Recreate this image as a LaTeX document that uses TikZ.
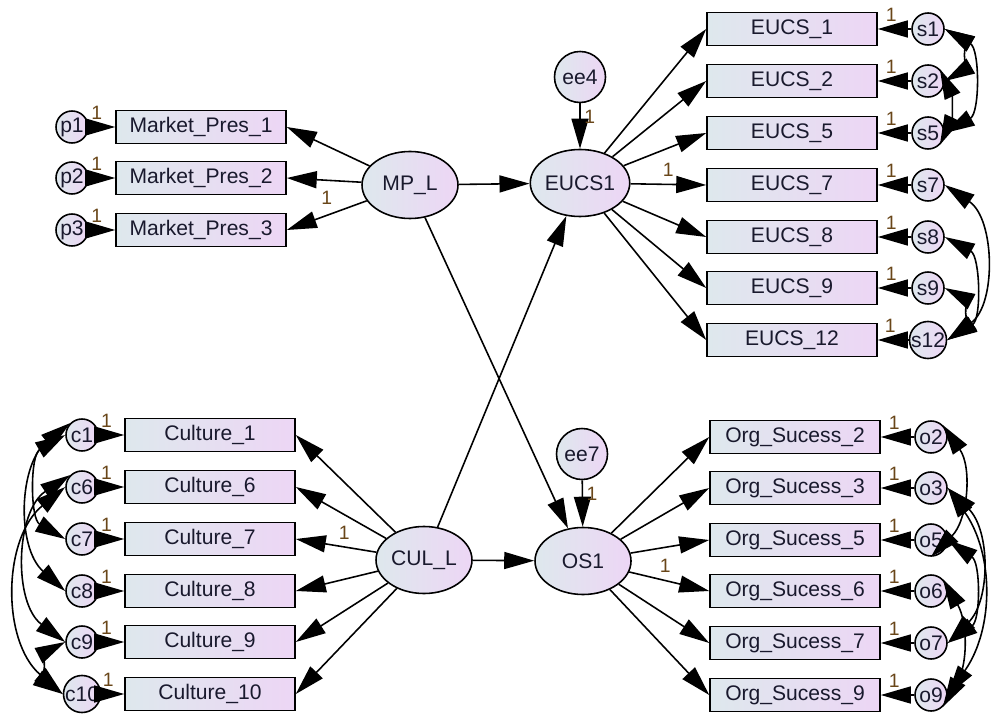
\documentclass[tikz,border=0pt]{standalone}
\usepackage{fontspec}
\setmainfont{Liberation Sans}
\usepackage{tikz}
\usetikzlibrary{arrows.meta, shapes.geometric}
\definecolor{fillleft}{RGB}{222,232,237}
\definecolor{fillright}{RGB}{237,214,245}
\definecolor{onecol}{RGB}{105,70,25}
\definecolor{txtcol}{RGB}{25,25,45}

\begin{document}
\begin{tikzpicture}[
    obs/.style={draw, line width=0.9pt, left color=fillleft, right color=fillright,
                minimum width=3.4cm, minimum height=0.66cm, inner sep=0pt,
                text=txtcol, font=\fontsize{12}{14}\selectfont},
    lat/.style={ellipse, draw, line width=0.9pt, left color=fillleft, right color=fillright,
                minimum width=1.92cm, minimum height=1.34cm, inner sep=0pt,
                text=txtcol, font=\fontsize{12}{14}\selectfont},
    err/.style={circle, draw, line width=0.9pt, left color=fillleft, right color=fillright,
                minimum size=0.64cm, inner sep=0pt,
                text=txtcol, font=\fontsize{12}{14}\selectfont},
    dist/.style={circle, draw, line width=0.9pt, left color=fillleft, right color=fillright,
                 minimum size=1.02cm, inner sep=0pt,
                 text=txtcol, font=\fontsize{12}{14}\selectfont},
    reg/.style={-{Triangle[length=6mm,width=3.4mm]}, line width=0.9pt},
    cov/.style={{Triangle[length=6mm,width=3.4mm]}-{Triangle[length=6mm,width=3.4mm]}, line width=0.9pt},
    one/.style={font=\fontsize{11}{13}\selectfont, text=onecol, inner sep=1pt}
]
\useasboundingbox (0,0) rectangle (19.9,-14.3);

% latent variables
\node[lat]  (mpl)  at (8.2, -3.7)   {MP\_L};
\node[lat]  (eucs) at (11.6, -3.66) {EUCS1};
\node[dist] (ee4)  at (11.6, -1.54) {ee4};
\node[lat]  (cul)  at (8.48, -11.2) {CUL\_L};
\node[lat]  (os)   at (11.66, -11.22) {OS1};
\node[dist] (ee7)  at (11.64, -9.08) {ee7};

% market presence indicators
\node[obs] (mp1) at (4.02, -2.54) {Market\_Pres\_1};
\node[obs] (mp2) at (4.02, -3.56) {Market\_Pres\_2};
\node[obs] (mp3) at (4.02, -4.60) {Market\_Pres\_3};
\node[err] (p1) at (1.44, -2.54) {p1};
\node[err] (p2) at (1.44, -3.56) {p2};
\node[err] (p3) at (1.44, -4.60) {p3};

% EUCS indicators
\node[obs] (eu1)  at (15.84, -0.58) {EUCS\_1};
\node[obs] (eu2)  at (15.84, -1.62) {EUCS\_2};
\node[obs] (eu5)  at (15.84, -2.66) {EUCS\_5};
\node[obs] (eu7)  at (15.84, -3.70) {EUCS\_7};
\node[obs] (eu8)  at (15.84, -4.74) {EUCS\_8};
\node[obs] (eu9)  at (15.84, -5.76) {EUCS\_9};
\node[obs] (eu12) at (15.84, -6.80) {EUCS\_12};
\node[err] (s1)  at (18.56, -0.58) {s1};
\node[err] (s2)  at (18.56, -1.62) {s2};
\node[err] (s5)  at (18.56, -2.66) {s5};
\node[err] (s7)  at (18.56, -3.70) {s7};
\node[err] (s8)  at (18.56, -4.74) {s8};
\node[err] (s9)  at (18.56, -5.76) {s9};
\node[err] (s12) at (18.56, -6.80) {s12};

% culture indicators
\node[obs] (cu1)  at (4.2, -8.70)  {Culture\_1};
\node[obs] (cu6)  at (4.2, -9.74)  {Culture\_6};
\node[obs] (cu7)  at (4.2, -10.78) {Culture\_7};
\node[obs] (cu8)  at (4.2, -11.82) {Culture\_8};
\node[obs] (cu9)  at (4.2, -12.84) {Culture\_9};
\node[obs] (cu10) at (4.2, -13.88) {Culture\_10};
\node[err] (c1)  at (1.64, -8.70)  {c1};
\node[err] (c6)  at (1.64, -9.74)  {c6};
\node[err] (c7)  at (1.64, -10.78) {c7};
\node[err] (c8)  at (1.64, -11.82) {c8};
\node[err] (c9)  at (1.64, -12.84) {c9};
\node[err] (c10) at (1.64, -13.88) {c10};

% organisational success indicators
\node[obs] (og2) at (15.9, -8.74)  {Org\_Sucess\_2};
\node[obs] (og3) at (15.9, -9.76)  {Org\_Sucess\_3};
\node[obs] (og5) at (15.9, -10.80) {Org\_Sucess\_5};
\node[obs] (og6) at (15.9, -11.82) {Org\_Sucess\_6};
\node[obs] (og7) at (15.9, -12.86) {Org\_Sucess\_7};
\node[obs] (og9) at (15.9, -13.90) {Org\_Sucess\_9};
\node[err] (o2) at (18.62, -8.74)  {o2};
\node[err] (o3) at (18.62, -9.76)  {o3};
\node[err] (o5) at (18.62, -10.80) {o5};
\node[err] (o6) at (18.62, -11.82) {o6};
\node[err] (o7) at (18.62, -12.86) {o7};
\node[err] (o9) at (18.62, -13.90) {o9};

% structural paths
\draw[reg] (mpl) -- (eucs);
\draw[reg] (mpl) -- (os);
\draw[reg] (cul) -- (eucs);
\draw[reg] (cul) -- (os);
\draw[reg] (ee4) -- node[one, pos=0.3, right=1pt] {1} (eucs);
\draw[reg] (ee7) -- node[one, pos=0.3, right=1pt] {1} (os);

% loadings
\draw[reg] (mpl) -- (mp1.east);
\draw[reg] (mpl) -- (mp2.east);
\draw[reg] (mpl) -- node[one, pos=0.5, above=5pt] {1} (mp3.east);
\draw[reg] (eucs) -- (eu1.west);
\draw[reg] (eucs) -- (eu2.west);
\draw[reg] (eucs) -- (eu5.west);
\draw[reg] (eucs) -- node[one, pos=0.5, above=3pt] {1} (eu7.west);
\draw[reg] (eucs) -- (eu8.west);
\draw[reg] (eucs) -- (eu9.west);
\draw[reg] (eucs) -- (eu12.west);
\draw[reg] (cul) -- (cu1.east);
\draw[reg] (cul) -- (cu6.east);
\draw[reg] (cul) -- node[one, pos=0.4, above=3pt] {1} (cu7.east);
\draw[reg] (cul) -- (cu8.east);
\draw[reg] (cul) -- (cu9.east);
\draw[reg] (cul) -- (cu10.east);
\draw[reg] (os) -- (og2.west);
\draw[reg] (os) -- (og3.west);
\draw[reg] (os) -- (og5.west);
\draw[reg] (os) -- node[one, pos=0.45, above=3pt] {1} (og6.west);
\draw[reg] (os) -- (og7.west);
\draw[reg] (os) -- (og9.west);

% error terms
\draw[reg] (p1) -- node[one, pos=0.3, above=3pt] {1} (mp1);
\draw[reg] (p2) -- node[one, pos=0.3, above=3pt] {1} (mp2);
\draw[reg] (p3) -- node[one, pos=0.3, above=3pt] {1} (mp3);
\draw[reg] (s1)  -- node[one, pos=0.6, above=3pt] {1} (eu1);
\draw[reg] (s2)  -- node[one, pos=0.6, above=3pt] {1} (eu2);
\draw[reg] (s5)  -- node[one, pos=0.6, above=3pt] {1} (eu5);
\draw[reg] (s7)  -- node[one, pos=0.6, above=3pt] {1} (eu7);
\draw[reg] (s8)  -- node[one, pos=0.6, above=3pt] {1} (eu8);
\draw[reg] (s9)  -- node[one, pos=0.6, above=3pt] {1} (eu9);
\draw[reg] (s12) -- node[one, pos=0.6, above=3pt] {1} (eu12);
\draw[reg] (c1)  -- node[one, pos=0.3, above=3pt] {1} (cu1);
\draw[reg] (c6)  -- node[one, pos=0.3, above=3pt] {1} (cu6);
\draw[reg] (c7)  -- node[one, pos=0.3, above=3pt] {1} (cu7);
\draw[reg] (c8)  -- node[one, pos=0.3, above=3pt] {1} (cu8);
\draw[reg] (c9)  -- node[one, pos=0.3, above=3pt] {1} (cu9);
\draw[reg] (c10) -- node[one, pos=0.3, above=3pt] {1} (cu10);
\draw[reg] (o2) -- node[one, pos=0.6, above=3pt] {1} (og2);
\draw[reg] (o3) -- node[one, pos=0.6, above=3pt] {1} (og3);
\draw[reg] (o5) -- node[one, pos=0.6, above=3pt] {1} (og5);
\draw[reg] (o6) -- node[one, pos=0.6, above=3pt] {1} (og6);
\draw[reg] (o7) -- node[one, pos=0.6, above=3pt] {1} (og7);
\draw[reg] (o9) -- node[one, pos=0.6, above=3pt] {1} (og9);

% covariances
\draw[cov] (s1.east) to[bend left=60] (s2.east);
\draw[cov] (s1.east) to[bend left=60] (s5.east);
\draw[cov] (s2.north east) to[bend left=25] (s5.south east);
\draw[cov] (s7.east) to[bend left=55] (s12.east);
\draw[cov] (s8.east) to[bend left=60] (s12.east);
\draw[cov] (s9.east) to[bend left=60] (s12.east);
\draw[cov] (o2.north east) to[bend left=40] (o5.south);
\draw[cov] (o3.east) to[bend left=45] (o7.east);
\draw[cov] (o3.east) to[bend left=35] (o9.east);
\draw[cov] (o5.east) to[bend left=55] (o7.east);
\draw[cov] (o6.north east) to[bend left=30] (o9.south east);
\draw[cov] (c1.west) to[bend right=60] (c7.west);
\draw[cov] (c1.north west) to[bend right=50] (c8.west);
\draw[cov] (c6.north west) to[bend right=55] (c9.west);
\draw[cov] (c6.west) to[bend right=50] (c10.west);
\draw[cov] (c9.west) to[bend right=60] (c10.west);
\end{tikzpicture}
\end{document}
